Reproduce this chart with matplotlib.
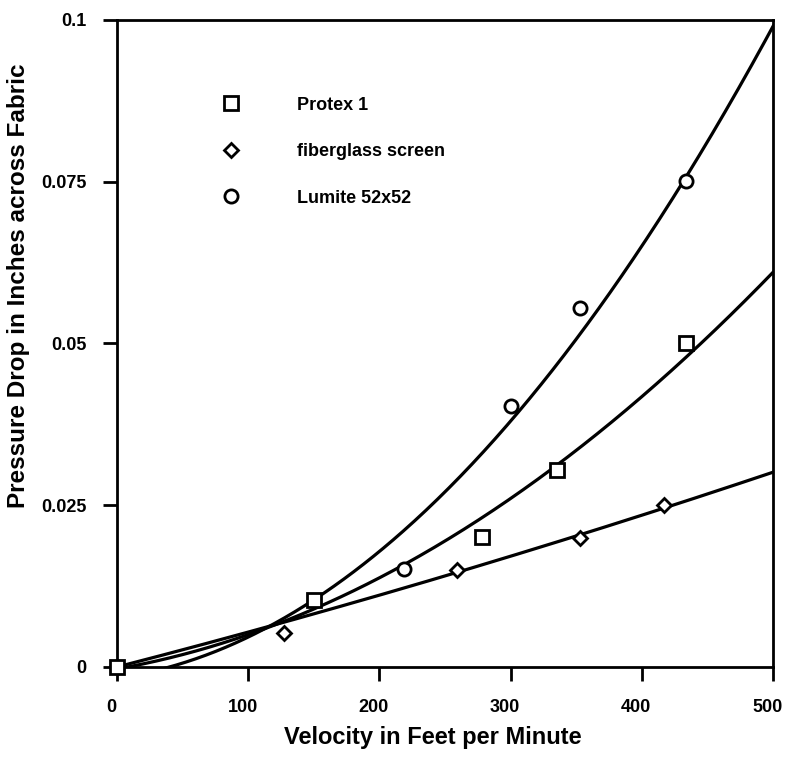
import numpy as np
import matplotlib.pyplot as plt
import matplotlib.transforms as mtransforms

plt.rcParams['font.family'] = ['Liberation Sans', 'DejaVu Sans']
plt.rcParams['font.weight'] = 'bold'

# Data (velocity ft/min, pressure drop in.)
protex_x = [0, 150, 278, 335, 434]
protex_y = [0.0, 0.0104, 0.0201, 0.0304, 0.0500]

fiber_x = [0, 127, 259, 353, 417]
fiber_y = [0.0, 0.0053, 0.0150, 0.0200, 0.0250]

lumite_x = [0, 219, 300, 353, 434]
lumite_y = [0.0, 0.0151, 0.0403, 0.0555, 0.0751]

# fitted curves: y = c*x^2 + b*x + a
protex_fit = [1.74e-7, 3.56e-5, -0.0003]
fiber_fit = [1.567e-8, 5.237e-5, 0.0]
lumite_fit = [3.455e-7, 2.868e-5, -0.0017]

x_ticks = [0, 100, 200, 300, 400, 500]
y_ticks = [0, 0.025, 0.05, 0.075, 0.1]
y_ticklabels = ['0', '0.025', '0.05', '0.075', '0.1']

fig = plt.figure(figsize=(7.85, 7.57), dpi=100)
ax = fig.add_axes([0.149, 0.1189, 0.8357, 0.8547])

xs = np.linspace(0, 500, 400)
series = [
    (protex_x, protex_y, protex_fit, 's', 'Protex 1', 5),
    (fiber_x, fiber_y, fiber_fit, 'D', 'fiberglass screen', 4),
    (lumite_x, lumite_y, lumite_fit, 'o', 'Lumite 52x52', 3),
]
handles = []
for sx, sy, coef, mk, label, z in series:
    ax.plot(xs, np.polyval(coef, xs), color='black', lw=2.3, zorder=2)
    msize = 7 if mk == 'D' else 9.5
    h, = ax.plot(sx, sy, mk, ms=msize, mfc='white', mec='black', mew=2,
                 ls='none', zorder=z, clip_on=False, label=label)
    handles.append(h)

ax.set_xlim(0, 500)
ax.set_ylim(0, 0.1)
ax.set_xticks(x_ticks)
ax.set_yticks(y_ticks)
ax.set_yticklabels(y_ticklabels)
ax.tick_params(direction='out', length=10, width=2, labelsize=13)
ax.tick_params(axis='x', pad=13)
ax.tick_params(axis='y', pad=12)
for s in ax.spines.values():
    s.set_linewidth(2)

# x tick labels sit a little left of their ticks in the original
shift = mtransforms.ScaledTranslation(-4 / 72, 0, fig.dpi_scale_trans)
for lab in ax.get_xticklabels():
    lab.set_transform(lab.get_transform() + shift)

ax.set_xlabel('Velocity in Feet per Minute', fontsize=17, fontweight='bold', labelpad=7)
ax.set_ylabel('Pressure Drop in Inches across Fabric', fontsize=17.5, fontweight='bold', labelpad=8)
ax.xaxis.label.set_x(0.481)
ax.yaxis.label.set_y(0.589)

ax.legend(handles=handles, loc='upper left', bbox_to_anchor=(0.1463, 0.8815),
          frameon=False, fontsize=13, labelspacing=1.63, handlelength=2,
          handletextpad=2.67, borderpad=0, borderaxespad=0, numpoints=1)

fig.savefig('out.png', dpi=100)
